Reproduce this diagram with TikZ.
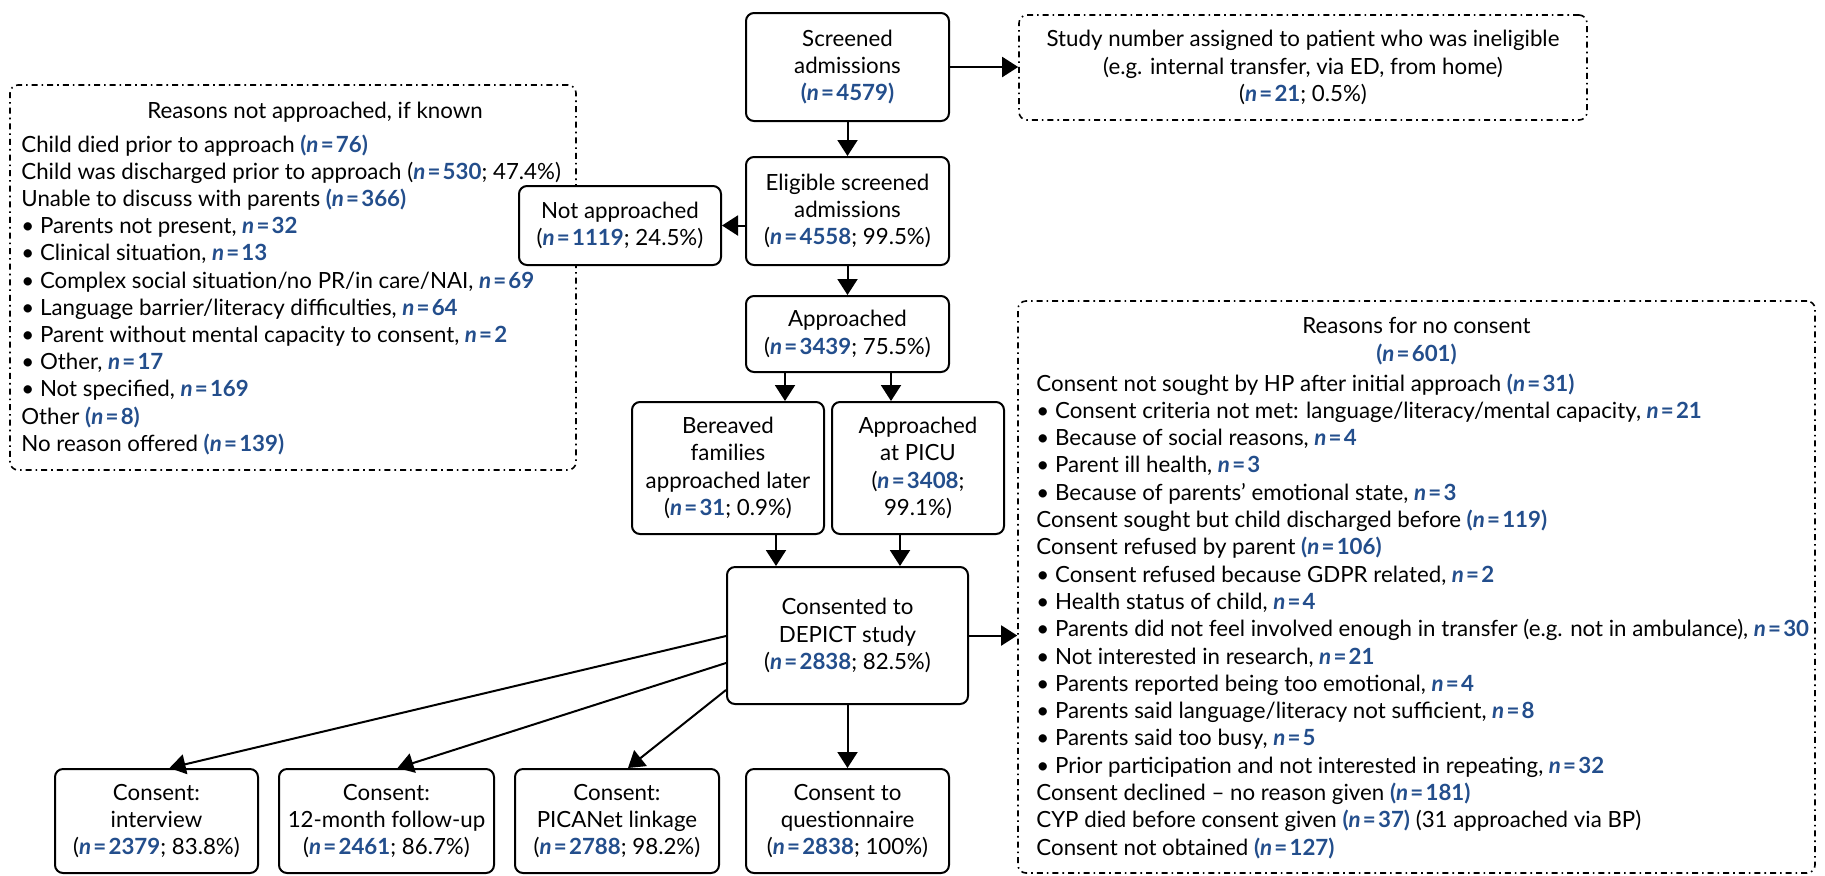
\documentclass[tikz,border=0pt]{standalone}
\usepackage{fontspec}
\setmainfont{Lato}
\usetikzlibrary{arrows.meta,calc}
\definecolor{nblue}{RGB}{35,78,140}
% "n = value" in bold blue, without and with brackets
\newcommand{\nv}[1]{{\color{nblue}\bfseries\itshape n\/\upshape\kern0.1em=\kern0.1em#1}}
\newcommand{\pnv}[1]{{\color{nblue}\bfseries(\itshape n\/\upshape\kern0.1em=\kern0.1em#1)}}
\begin{document}
\begin{tikzpicture}[x=0.5pt,y=-0.5pt,
  font=\fontsize{11.15}{13.65}\selectfont,
  box/.style={draw,line width=1pt,rounded corners=4pt,fill=white,align=center,inner sep=0pt},
  note/.style={draw,line width=0.8pt,rounded corners=4pt,
    dash pattern=on 3pt off 2pt on 0.8pt off 2pt,inner sep=0pt},
  arr/.style={line width=1pt,-{Triangle[length=8pt,width=10pt]}},
  line/.style={anchor=base west,inner sep=0pt},
  head/.style={anchor=base,inner sep=0pt}]
\useasboundingbox (0,0) rectangle (1825,875);

% side notes
\node[note,minimum width=283pt,minimum height=192.5pt] (leftnote) at (293,277.5) {};
\node[note,minimum width=284pt,minimum height=52.5pt,align=center] (topnote) at (1303,67.5)
  {Study number assigned to patient who was ineligible\\(e.g. internal transfer, via ED, from home)\\(\nv{21}; 0.5\%)};
\node[note,minimum width=398.5pt,minimum height=286pt] (rightnote) at (1416.5,587) {};

% main flow
\node[box,minimum width=101.5pt,minimum height=54pt] (screened) at (847.5,67)
  {Screened\\admissions\\\pnv{4579}};
\node[box,minimum width=101.5pt,minimum height=54pt] (eligible) at (847.5,211)
  {Eligible screened\\admissions\\(\nv{4558}; 99.5\%)};
\node[box,minimum width=101pt,minimum height=39.5pt] (notappr) at (620,225.5)
  {Not approached\\(\nv{1119}; 24.5\%)};
\node[box,minimum width=101.5pt,minimum height=38pt] (approached) at (847.5,334)
  {Approached\\(\nv{3439}; 75.5\%)};
\node[box,minimum width=96pt,minimum height=66pt] (bereaved) at (728,468)
  {Bereaved\\families\\approached later\\(\nv{31}; 0.9\%)};
\node[box,minimum width=86pt,minimum height=66pt] (picu) at (918,468)
  {Approached\\at PICU\\(\nv{3408};\\99.1\%)};
\node[box,minimum width=120.5pt,minimum height=68.5pt] (consented) at (847.5,635.5)
  {Consented to\\DEPICT study\\(\nv{2838}; 82.5\%)};
\node[box,minimum width=101.5pt,minimum height=52pt] (b1) at (156.5,821)
  {Consent:\\interview\\(\nv{2379}; 83.8\%)};
\node[box,minimum width=107.5pt,minimum height=52pt] (b2) at (386.5,821)
  {Consent:\\12-month follow-up\\(\nv{2461}; 86.7\%)};
\node[box,minimum width=102pt,minimum height=52pt] (b3) at (617,821)
  {Consent:\\PICANet linkage\\(\nv{2788}; 98.2\%)};
\node[box,minimum width=101.5pt,minimum height=52pt] (b4) at (847.5,821)
  {Consent to\\questionnaire\\(\nv{2838}; 100\%)};

% reasons not approached
\node[head] (lefttitle) at (315,118) {Reasons not approached, if known};
\foreach \t [count=\i] in {
  {Child died prior to approach \pnv{76}},
  {Child was discharged prior to approach (\nv{530}; 47.4\%)},
  {Unable to discuss with parents \pnv{366}},
  {• Parents not present, \nv{32}},
  {• Clinical situation, \nv{13}},
  {• Complex social situation/no PR/in care/NAI, \nv{69}},
  {• Language barrier/literacy difficulties, \nv{64}},
  {• Parent without mental capacity to consent, \nv{2}},
  {• Other, \nv{17}},
  {• Not specified, \nv{169}},
  {Other \pnv{8}},
  {No reason offered \pnv{139}}}
  \node[line] (la\i) at (21,{152+27.2*(\i-1)}) {\t};

% reasons for no consent
\node[head] (righttitle) at (1416.5,333) {Reasons for no consent};
\node[head] (righttotal) at (1416.5,361) {\pnv{601}};
\foreach \t [count=\i] in {
  {Consent not sought by HP after initial approach \pnv{31}},
  {• Consent criteria not met: language/literacy/mental capacity, \nv{21}},
  {• Because of social reasons, \nv{4}},
  {• Parent ill health, \nv{3}},
  {• Because of parents’ emotional state, \nv{3}},
  {Consent sought but child discharged before \pnv{119}},
  {Consent refused by parent \pnv{106}},
  {• Consent refused because GDPR related, \nv{2}},
  {• Health status of child, \nv{4}},
  {• Parents did not feel involved enough in transfer (e.g. not in ambulance), \nv{30}},
  {• Not interested in research, \nv{21}},
  {• Parents reported being too emotional, \nv{4}},
  {• Parents said language/literacy not sufficient, \nv{8}},
  {• Parents said too busy, \nv{5}},
  {• Prior participation and not interested in repeating, \nv{32}},
  {Consent declined – no reason given \pnv{181}},
  {CYP died before consent given \pnv{37} (31 approached via BP)},
  {Consent not obtained \pnv{127}}}
  \node[line] (ra\i) at (1036,{391+27.3*(\i-1)}) {\t};

% connectors
\draw[arr] (screened.east) -- (screened.east -| topnote.west);
\draw[arr] (screened) -- (eligible);
\draw[arr] (eligible.west |- notappr) -- (notappr.east);
\draw[arr] (eligible) -- (approached);
\coordinate (s1) at ($(approached.south)+(-62.5,0)$);
\coordinate (s2) at ($(approached.south)+(43.5,0)$);
\draw[arr] (s1) -- (s1 |- bereaved.north);
\draw[arr] (s2) -- (s2 |- picu.north);
\coordinate (s3) at ($(bereaved.south)+(48,0)$);
\coordinate (s4) at ($(picu.south)+(-18,0)$);
\draw[arr] (s3) -- (s3 |- consented.north);
\draw[arr] (s4) -- (s4 |- consented.north);
\draw[arr] (consented.east) -- (consented.east -| rightnote.west);
\draw[arr] ($(consented.west)+(0,0.5)$) -- ($(b1.north)+(13,0)$);
\draw[arr] ($(consented.west)+(0,27.5)$) -- ($(b2.north)+(11,0)$);
\draw[arr] ($(consented.west)+(0,54.5)$) -- ($(b3.north)+(11,0)$);
\draw[arr] (consented) -- (b4);
\end{tikzpicture}
\end{document}
